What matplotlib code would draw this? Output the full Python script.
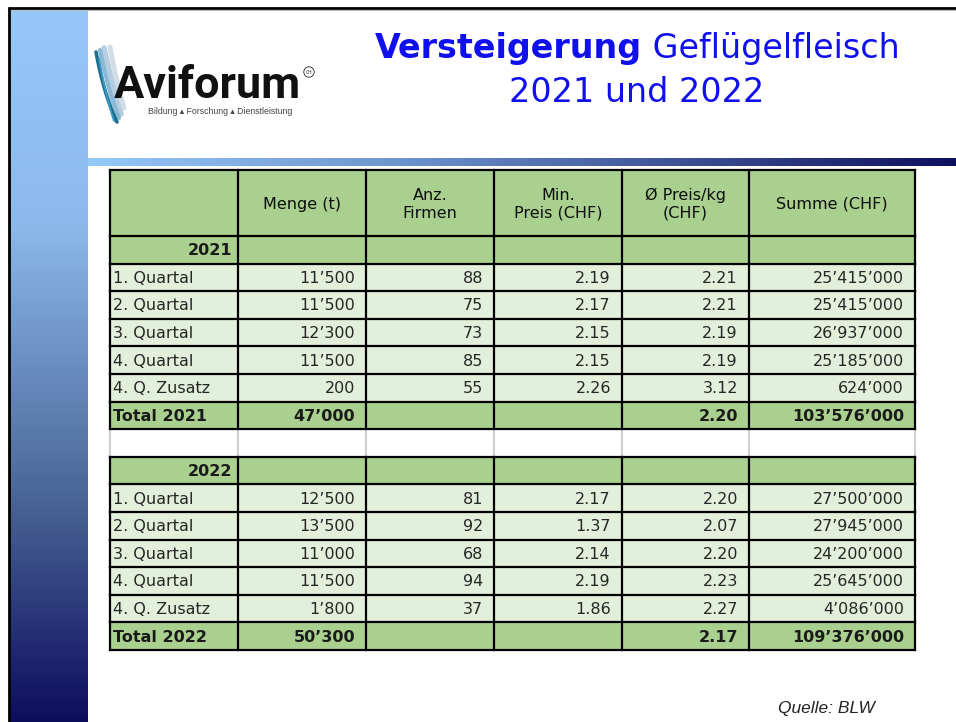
import numpy as np
import matplotlib.pyplot as plt
from matplotlib.patches import Rectangle, Circle

# ---- data ----
quartale = ["1. Quartal", "2. Quartal", "3. Quartal", "4. Quartal", "4. Q. Zusatz"]
headers = ["", "Menge (t)", "Anz.\nFirmen", "Min.\nPreis (CHF)", "Ø Preis/kg\n(CHF)", "Summe (CHF)"]

menge_2021 = [11500, 11500, 12300, 11500, 200]
firmen_2021 = [88, 75, 73, 85, 55]
min_preis_2021 = [2.19, 2.17, 2.15, 2.15, 2.26]
avg_preis_2021 = [2.21, 2.21, 2.19, 2.19, 3.12]
summe_2021 = [25415000, 25415000, 26937000, 25185000, 624000]
total_menge_2021, total_avg_2021, total_summe_2021 = 47000, 2.20, 103576000

menge_2022 = [12500, 13500, 11000, 11500, 1800]
firmen_2022 = [81, 92, 68, 94, 37]
min_preis_2022 = [2.17, 1.37, 2.14, 2.19, 1.86]
avg_preis_2022 = [2.20, 2.07, 2.20, 2.23, 2.27]
summe_2022 = [27500000, 27945000, 24200000, 25645000, 4086000]
total_menge_2022, total_avg_2022, total_summe_2022 = 50300, 2.17, 109376000


def tsd(v):
    return f"{v:,}".replace(",", "\u2019")


# ---- figure in pixel coordinates ----
W, H = 956, 722
fig = plt.figure(figsize=(W / 100, H / 100), dpi=100)
ax = fig.add_axes([0, 0, 1, 1])
ax.axis("off")


def gradient(stops, n=256):
    pos = [s[0] for s in stops]
    cols = np.array([s[1] for s in stops], dtype=float) / 255
    t = np.linspace(0, 1, n)
    return np.stack([np.interp(t, pos, cols[:, k]) for k in range(3)], axis=-1)


# left vertical bar
vg = gradient([(0, (150, 200, 250)), (0.3, (140, 185, 235)), (0.7, (72, 98, 148)), (1, (13, 13, 94))])
ax.imshow(vg[:, None, :], extent=(10, 88, 722, 9), aspect="auto", interpolation="bilinear")
# horizontal bar under the title
hg = gradient([(0, (150, 200, 250)), (0.35, (110, 150, 205)), (1, (15, 15, 95))])
ax.imshow(hg[None, :, :], extent=(88, 956, 166, 158), aspect="auto", interpolation="bilinear")

ax.plot([8, W], [7.5, 7.5], color="black", lw=2, solid_capstyle="butt")
ax.plot([8, W], [9.5, 9.5], color="#bbbbbb", lw=0.8)
ax.plot([9, 9], [7, H], color="black", lw=2, solid_capstyle="butt")

# ---- logo ----
streaks = [((104, 48), (112, 85), (121, 114), "#b5cde0", 4.0),
           ((110, 47), (116, 80), (124, 108), "#d0dce6", 3.5),
           ((100, 50), (108, 90), (119, 118), "#8ab9d8", 3.0),
           ((96, 52), (104, 95), (117, 122), "#1d6f8f", 2.6),
           ((99, 58), (106, 98), (114, 121), "#3b9cc4", 1.3)]
t = np.linspace(0, 1, 40)
for p0, p1, p2, c, w in streaks:
    xs = (1 - t) ** 2 * p0[0] + 2 * (1 - t) * t * p1[0] + t ** 2 * p2[0]
    ys = (1 - t) ** 2 * p0[1] + 2 * (1 - t) * t * p1[1] + t ** 2 * p2[1]
    ax.plot(xs, ys, color=c, lw=w, solid_capstyle="round")

logo = ax.text(114, 98, "Aviforum", fontsize=36, fontweight="bold", family="Roboto",
               color="#111111", ha="left", va="baseline")
fig.canvas.draw()
r = fig.canvas.get_renderer()
wlogo = logo.get_window_extent(r).width
logo.set_fontsize(36 * 187 / wlogo)
ax.add_patch(Circle((309, 72), 5.2, fill=False, ec="#222222", lw=0.6))
ax.text(309, 72.3, "CH", fontsize=3.3, ha="center", va="center", color="#222222")
ax.text(148, 114, "Bildung \u25b4 Forschung \u25b4 Dienstleistung", fontsize=6.3,
        family=["Liberation Sans", "DejaVu Sans"], color="#444444", ha="left", va="baseline")

# ---- title ----
tcol = "#1010ee"
tsize = 24
t1 = ax.text(0, 58, "Versteigerung", fontsize=tsize, fontweight="bold", color=tcol, va="baseline")
t2 = ax.text(0, 58, " Gefl\u00fcgelfleisch", fontsize=tsize, color=tcol, va="baseline")
ax.set_xlim(0, W)
ax.set_ylim(H, 0)
fig.canvas.draw()
w1 = t1.get_window_extent(r).width
w2 = t2.get_window_extent(r).width
x0 = 637 - (w1 + w2) / 2
t1.set_x(x0)
t2.set_x(x0 + w1)
ax.text(637, 102, "2021 und 2022", fontsize=tsize, color=tcol, ha="center", va="baseline")

# ---- table ----
col_x = [110, 238, 366, 494, 622, 749, 915]
head_top, head_bot = 170, 236
row_h = 27.6
green = "#a9d08e"
light = "#e2efda"
txt = "#262626"
fs = 11.5

rows = []
for year, mg, fi, mi, av, su, tm, ta, ts in [
        ("2021", menge_2021, firmen_2021, min_preis_2021, avg_preis_2021, summe_2021,
         total_menge_2021, total_avg_2021, total_summe_2021),
        ("2022", menge_2022, firmen_2022, min_preis_2022, avg_preis_2022, summe_2022,
         total_menge_2022, total_avg_2022, total_summe_2022)]:
    if rows:
        rows.append(("blank", None))
    rows.append(("year", [year, "", "", "", "", ""]))
    for i, q in enumerate(quartale):
        rows.append(("data", [q, tsd(mg[i]), str(fi[i]), f"{mi[i]:.2f}", f"{av[i]:.2f}", tsd(su[i])]))
    rows.append(("total", ["Total " + year, tsd(tm), "", "", f"{ta:.2f}", tsd(ts)]))

# header
for c in range(6):
    x0c, x1c = col_x[c], col_x[c + 1]
    ax.add_patch(Rectangle((x0c, head_top), x1c - x0c, head_bot - head_top, fc=green, ec="none"))
    ax.text((x0c + x1c) / 2, (head_top + head_bot) / 2 + 1, headers[c], fontsize=fs,
            color="#0d0d0d", ha="center", va="center", linespacing=1.25)

for i, (kind, vals) in enumerate(rows):
    y0 = head_bot + i * row_h
    yc = y0 + row_h / 2 + 1
    fc = {"year": green, "total": green, "data": light, "blank": "white"}[kind]
    ax.add_patch(Rectangle((col_x[0], y0), col_x[-1] - col_x[0], row_h, fc=fc, ec="none"))
    if kind == "blank":
        for x in col_x:
            ax.plot([x, x], [y0, y0 + row_h], color="#d0d0d0", lw=1.5)
        continue
    for x in col_x:
        ax.plot([x, x], [y0, y0 + row_h], color="black", lw=1.6, solid_capstyle="projecting")
    bold = kind in ("year", "total")
    for c, v in enumerate(vals):
        if not v:
            continue
        if c == 0 and kind == "year":
            ax.text(col_x[1] - 6, yc, v, fontsize=fs, fontweight="bold", color="#1a1a1a",
                    ha="right", va="center")
        elif c == 0:
            ax.text(col_x[0] + 3, yc, v, fontsize=fs, fontweight="bold" if bold else "normal",
                    color="#1a1a1a" if bold else txt, ha="left", va="center")
        else:
            ax.text(col_x[c + 1] - 11, yc, v, fontsize=fs, fontweight="bold" if bold else "normal",
                    color="#1a1a1a" if bold else txt, ha="right", va="center")

# horizontal rules
n_rows = len(rows)
ys = [head_top, head_bot] + [head_bot + (i + 1) * row_h for i in range(n_rows)]
for k, y in enumerate(ys):
    ax.plot([col_x[0], col_x[-1]], [y, y], color="black", lw=1.6, solid_capstyle="projecting")
for x in col_x:
    ax.plot([x, x], [head_top, head_bot], color="black", lw=1.6, solid_capstyle="projecting")

# source
ax.text(826, 713, "Quelle: BLW", fontsize=12.5, style="italic", family="Liberation Sans",
        color="#222222", ha="center", va="baseline")

ax.set_xlim(0, W)
ax.set_ylim(H, 0)
fig.savefig("out.png", dpi=100)
